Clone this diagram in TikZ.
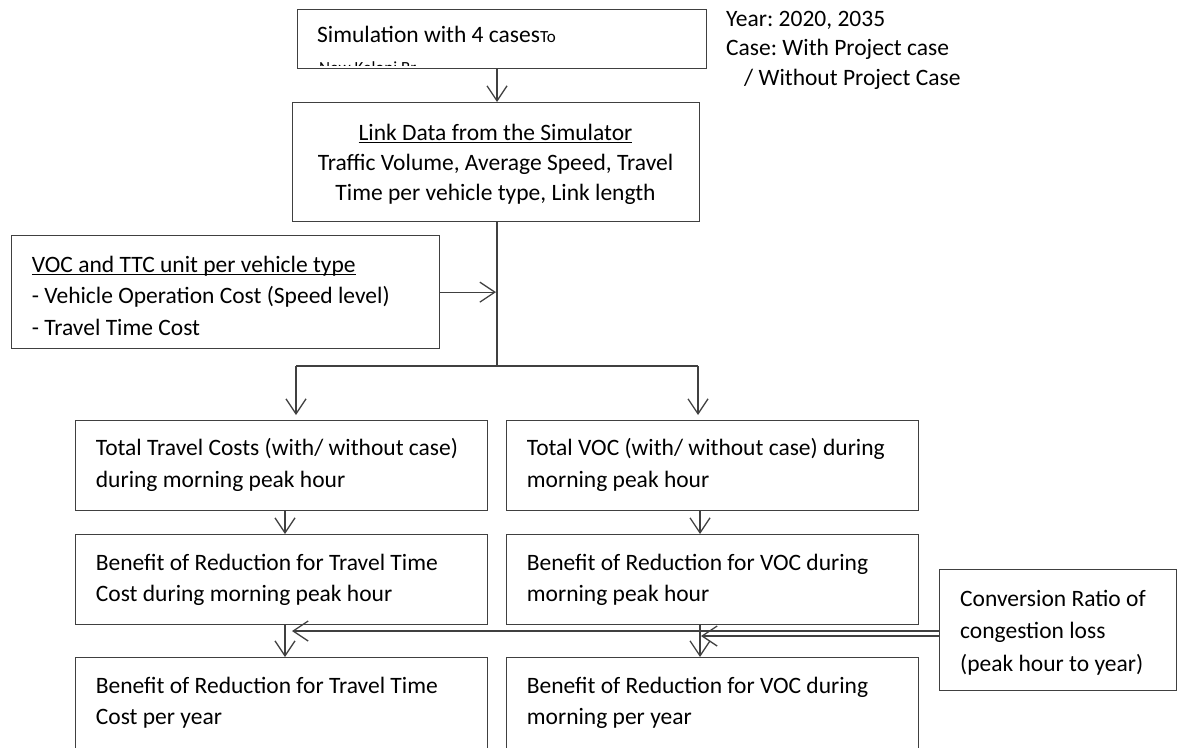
\documentclass[tikz,border=0pt]{standalone}
\usepackage{fontspec}
\setmainfont{Carlito}
\usetikzlibrary{arrows.meta}
\definecolor{linec}{RGB}{64,64,64}
\newcommand\ulx[1]{\setbox0\hbox{#1}\rlap{\rule[-2.6pt]{\wd0}{1.3pt}}\box0}
\frenchspacing
\begin{document}
\begin{tikzpicture}[x=1pt,y=-1pt,
  box/.style={draw=linec,line width=1.3pt,inner sep=0pt,anchor=north west},
  txt/.style={inner sep=0pt,align=left,anchor=north west,font=\fontsize{23.5}{31.5}\selectfont},
  arr/.style={draw=linec,line width=1.3pt,-{Straight Barb[length=15pt,width=20pt,line width=1.3pt]}},
  ln/.style={draw=linec,line width=1.3pt}]
\useasboundingbox (0,0) rectangle (1178,747);
\clip (0,0) rectangle (1178,747);

% boxes
\node[box,minimum width=409pt,minimum height=59pt] (top) at (297,9) {};
\node[box,minimum width=407pt,minimum height=119pt] (link) at (292,102) {};
\node[box,minimum width=428pt,minimum height=113pt] (voc) at (11,235) {};
\node[box,minimum width=412pt,minimum height=90pt] (r1l) at (75,420) {};
\node[box,minimum width=412pt,minimum height=90pt] (r1r) at (506,420) {};
\node[box,minimum width=412pt,minimum height=90pt] (r2l) at (75,534) {};
\node[box,minimum width=412pt,minimum height=90pt] (r2r) at (506,534) {};
\node[box,minimum width=412pt,minimum height=110pt] (r3l) at (75,657) {};
\node[box,minimum width=412pt,minimum height=110pt] (r3r) at (506,657) {};
\node[box,minimum width=237pt,minimum height=121pt] (conv) at (939,569) {};

% texts
\node[txt,anchor=base west] (ttop) at (317,42) {Simulation with 4 cases{\fontsize{17}{20}\selectfont To}};
\begin{scope}
\clip (297,9) rectangle (706,65.5);
\node[txt,anchor=base west,font=\fontsize{17}{20}\selectfont] (tnk) at (319,73.5) {New Keloni Br};
\end{scope}
\node[txt,font=\fontsize{23.5}{29.5}\selectfont] (tyear) at (726,5.4)
  {Year: 2020, 2035\strut\\Case: With Project case\strut\\\hspace*{18pt}/ Without Project Case\strut};
\node[txt,align=center,anchor=north,font=\fontsize{23.5}{30}\selectfont] (tlink) at (495.5,119)
  {\ulx{Link Data from the Simulator}\strut\\Traffic Volume, Average Speed, Travel\strut\\Time per vehicle type, Link length\strut};
\node[txt] (tvoc) at (31.7,250)
  {\ulx{VOC and TTC unit per vehicle type}\strut\\- Vehicle Operation Cost (Speed level)\strut\\- Travel Time Cost\strut};
\node[txt,font=\fontsize{23.5}{32}\selectfont] (t1l) at (95.7,432.6)
  {Total Travel Costs (with/ without case)\strut\\during morning peak hour\strut};
\node[txt,font=\fontsize{23.5}{32}\selectfont] (t1r) at (526.7,432.6)
  {Total VOC (with/ without case) during\strut\\morning peak hour\strut};
\node[txt] (t2l) at (95.7,548)
  {Benefit of Reduction for Travel Time\strut\\Cost during morning peak hour\strut};
\node[txt] (t2r) at (526.7,548)
  {Benefit of Reduction for VOC during\strut\\morning peak hour\strut};
\node[txt] (t3l) at (95.7,671)
  {Benefit of Reduction for Travel Time\strut\\Cost per year\strut};
\node[txt] (t3r) at (526.7,671)
  {Benefit of Reduction for VOC during\strut\\morning per year\strut};
\node[txt,font=\fontsize{23.5}{32.5}\selectfont] (tconv) at (960,583.3)
  {Conversion Ratio of\strut\\congestion loss\strut\\(peak hour to year)\strut};

% connectors
\coordinate (jx) at (497,366);
\coordinate (bl) at (296,366);
\coordinate (br) at (698,366);
\coordinate (la) at (285,0);
\coordinate (ra) at (700,0);
\coordinate (ct) at (292,631);
\coordinate (cb) at (701,636);

\draw[arr] (jx |- top.south) -- (jx |- link.north);
\draw[ln,line width=2pt] (jx |- link.south) -- (jx);
\draw[arr,shorten >=1pt] (voc.east) -- (voc.east -| jx);
\draw[ln] (bl) -- (br);
\draw[arr,shorten >=5pt] (bl) -- (bl |- r1l.north);
\draw[arr,shorten >=5pt] (br) -- (br |- r1r.north);
\draw[arr] (la |- r1l.south) -- (la |- r2l.north);
\draw[arr] (ra |- r1r.south) -- (ra |- r2r.north);
\draw[arr] (la |- r2l.south) -- (la |- r3l.north);
\draw[arr] (ra |- r2r.south) -- (ra |- r3r.north);
\draw[arr] (conv.west |- ct) -- (ct);
\draw[arr] (conv.west |- cb) -- (cb);
\end{tikzpicture}
\end{document}
